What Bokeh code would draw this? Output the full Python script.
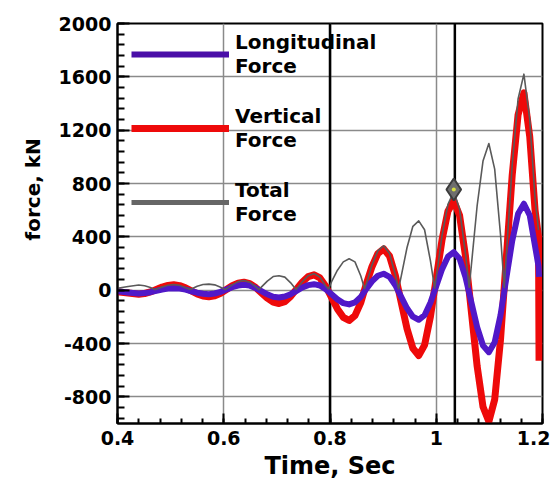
import numpy as np
from bokeh.plotting import figure
from bokeh.models import Range1d, FixedTicker, Span, Legend, LegendItem, Title
from bokeh.embed import file_html
from bokeh.resources import INLINE

# ---------------- data ----------------
time_s = [0.400, 0.420, 0.440,
          0.451, 0.462, 0.473, 0.484, 0.495, 0.506,
          0.517, 0.528, 0.539, 0.550, 0.561, 0.572,
          0.583, 0.594, 0.605, 0.616, 0.627, 0.638,
          0.649, 0.660, 0.671, 0.682, 0.693, 0.704,
          0.715, 0.726, 0.737, 0.748, 0.759, 0.770,
          0.781, 0.792, 0.803, 0.814, 0.825, 0.836,
          0.847, 0.858, 0.868, 0.879, 0.890, 0.901,
          0.912, 0.923, 0.934, 0.945, 0.956, 0.967,
          0.978, 0.989, 1.000, 1.011, 1.022, 1.033,
          1.044, 1.055, 1.066, 1.077, 1.088, 1.099,
          1.110, 1.121, 1.132, 1.143, 1.154, 1.165,
          1.176, 1.186, 1.1925, 1.1935]

vertical_kN = [-12, -22, -30,
               -25, -13, 5, 23, 35, 40,
               34, 18, -5, -28, -44, -50,
               -43, -23, 5, 33, 53, 60,
               49, 20, -20, -60, -89, -100,
               -86, -46, 8, 61, 101, 115,
               92, 30, -56, -141, -204, -227,
               -191, -93, 42, 176, 274, 310,
               256, 110, -90, -290, -436, -490,
               -412, -200, 90, 380, 592, 670,
               559, 256, -158, -571, -874, -985,
               -820, -369, 248, 864, 1315, 1480,
               1150, 600, 400, -530]

longitudinal_kN = [-8, -18, -25,
                   -22, -15, -5, 5, 12, 15,
                   12, 4, -8, -19, -27, -30,
                   -25, -13, 5, 23, 35, 40,
                   34, 16, -8, -31, -49, -55,
                   -48, -30, -5, 20, 38, 45,
                   35, 7, -31, -69, -97, -107,
                   -92, -50, 8, 66, 108, 123,
                   100, 37, -50, -136, -199, -222,
                   -188, -95, 32, 158, 251, 285,
                   235, 98, -90, -278, -415, -465,
                   -390, -187, 92, 370, 573, 648,
                   560, 330, 180, 100]

total_time_s = [0.400, 0.420, 0.440,
                0.451, 0.462, 0.470, 0.484, 0.495, 0.506,
                0.517, 0.528, 0.537, 0.550, 0.561, 0.572,
                0.583, 0.594, 0.603, 0.616, 0.627, 0.638,
                0.649, 0.660, 0.666, 0.682, 0.693, 0.704,
                0.715, 0.726, 0.736, 0.748, 0.759, 0.770,
                0.781, 0.792, 0.797, 0.803, 0.814, 0.825, 0.836,
                0.847, 0.858, 0.865, 0.868, 0.879, 0.890, 0.901,
                0.912, 0.923, 0.929, 0.934, 0.945, 0.956, 0.967,
                0.978, 0.989, 0.997, 1.000, 1.011, 1.022, 1.033,
                1.044, 1.055, 1.062, 1.066, 1.077, 1.088, 1.099,
                1.110, 1.121, 1.128, 1.132, 1.143, 1.154, 1.165,
                1.176, 1.186, 1.1925]

total_kN = [14, 28, 39,
            33, 20, 4, 24, 37, 43,
            36, 18, 5, 30, 42, 45,
            40, 22, 4, 40, 64, 72,
            60, 26, 4, 68, 102, 108,
            98, 55, 5, 64, 108, 123,
            98, 31, 8, 64, 150, 212, 235,
            212, 106, 12, 43, 188, 295, 333,
            275, 116, 10, 103, 320, 479, 520,
            453, 221, 15, 96, 412, 643, 740,
            606, 274, 20, 182, 635, 968, 1100,
            908, 414, 20, 265, 940, 1434, 1620,
            1279, 685, 450]

peak_time_s = [1.033]
peak_kN = [755]
event_time_s = [0.8, 1.035]

x_ticks = [0.4, 0.6, 0.8, 1.0, 1.2]
x_tick_labels = ["0.4", "0.6", "0.8", "1", "1.2"]
y_ticks = [-800, -400, 0, 400, 800, 1200, 1600, 2000]
y_tick_labels = ["-800", "-400", "0", "400", "800", "1200", "1600", "2000"]
legend_labels = ["Longitudinal\nForce", "Vertical\nForce", "Total\nForce"]

# ---------------- styling ----------------
PURPLE = "#5018c8"
RED = "#ee0a0a"
GRAY = "#5a5a5a"
FONT = "DejaVu Sans"

p = figure(width=550, height=483,
           x_range=Range1d(0.4, 1.2), y_range=Range1d(-1000, 2000),
           output_backend="svg", toolbar_location=None,
           min_border_left=117, min_border_right=8,
           min_border_top=23, min_border_bottom=60)

p.background_fill_color = "white"
p.border_fill_color = "white"
p.outline_line_color = "black"
p.outline_line_width = 2

# grids
p.xgrid.ticker = FixedTicker(ticks=x_ticks)
p.ygrid.ticker = FixedTicker(ticks=y_ticks)
for g in (p.xgrid, p.ygrid):
    g.grid_line_color = "#8a8a8a"
    g.grid_line_width = 1.5

# axes
p.xaxis.ticker = FixedTicker(ticks=x_ticks,
                             minor_ticks=list(np.round(np.arange(0.4, 1.2001, 0.04), 3)))
p.yaxis.ticker = FixedTicker(ticks=y_ticks,
                             minor_ticks=list(np.arange(-960, 2001, 80)))
p.xaxis.major_label_overrides = {t: l for t, l in zip(x_ticks, x_tick_labels)}
p.yaxis.major_label_overrides = {t: l for t, l in zip(y_ticks, y_tick_labels)}

for ax in (p.xaxis[0], p.yaxis[0]):
    ax.axis_line_color = "black"
    ax.axis_line_width = 2
    ax.major_tick_out = 0
    ax.minor_tick_out = 0
    ax.major_tick_line_width = 2
    ax.minor_tick_line_width = 2
    ax.major_tick_line_color = "black"
    ax.minor_tick_line_color = "black"
    ax.major_label_text_font = FONT
    ax.major_label_text_font_style = "bold"
    ax.major_label_text_font_size = "19px"
    ax.major_label_text_color = "black"

p.yaxis.major_tick_in = 12
p.yaxis.minor_tick_in = 7
p.xaxis.major_tick_in = 10
p.xaxis.minor_tick_in = 5
p.yaxis.major_label_standoff = 6
p.xaxis.major_label_standoff = 7

p.xaxis.axis_label = "Time, Sec"
p.xaxis.axis_label_text_font = FONT
p.xaxis.axis_label_text_font_style = "bold"
p.xaxis.axis_label_text_font_size = "24px"
p.xaxis.axis_label_text_color = "black"
p.xaxis.axis_label_standoff = 4

p.add_layout(Title(text="force, kN", align="left", offset=183,
                   vertical_align="top",
                   text_font=FONT, text_font_style="bold",
                   text_font_size="20px", text_color="black",
                   standoff=18), "left")

# event lines
for t in event_time_s:
    p.add_layout(Span(location=t, dimension="height", line_color="black",
                      line_width=2.5, level="underlay"))

# curves
p.line(time_s, vertical_kN, line_color=RED, line_width=7, line_join="round")
p.line(time_s, longitudinal_kN, line_color=PURPLE, line_width=6, line_join="round")
p.line(total_time_s, total_kN, line_color=GRAY, line_width=1.6, line_join="round")

# peak marker
p.scatter(peak_time_s, peak_kN, marker="diamond", size=22,
          fill_color="#6e6e6e", line_color="#3c3c3c", line_width=2)
p.scatter(peak_time_s, peak_kN, marker="circle", size=4,
          fill_color="#d8e040", line_color=None)

# legend (hidden placeholder renderers so legend glyphs get their own widths)
nan2 = [np.nan, np.nan]
lg_l = p.line(nan2, nan2, line_color="#4a0fa8", line_width=6)
lg_v = p.line(nan2, nan2, line_color=RED, line_width=7)
lg_t = p.line(nan2, nan2, line_color="#666666", line_width=5)

legend = Legend(items=[LegendItem(label=legend_labels[0], renderers=[lg_l]),
                       LegendItem(label=legend_labels[1], renderers=[lg_v]),
                       LegendItem(label=legend_labels[2], renderers=[lg_t])],
                location=(14, 197), margin=0, padding=0, spacing=26,
                glyph_width=98, glyph_height=40, label_standoff=6,
                label_text_font=FONT, label_text_font_style="bold",
                label_text_font_size="20px", label_text_line_height=1.1,
                label_text_color="black",
                background_fill_alpha=0, border_line_alpha=0)
p.add_layout(legend)

open("out.html", "w").write(file_html(p, INLINE))
